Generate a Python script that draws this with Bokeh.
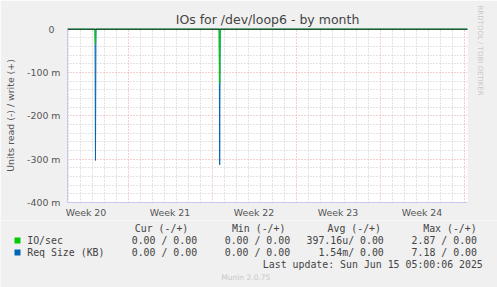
from bokeh.plotting import figure
from bokeh.models import FixedTicker, Grid, Span, Range1d, Title
from bokeh.core.properties import value
from bokeh.embed import file_html
from bokeh.resources import INLINE

# ---- data (x in days since Mon 12 May 2025 00:00) ----
time_days = [1.9, 4.25, 4.29, 4.33, 14.60, 14.64, 14.68, 35.5]
io_read = [0.0, 0.0, -0.035, 0.0, 0.0, -0.125, 0.0, 0.0]
reqsize_read = [0.0, 0.0, -0.303, 0.0, 0.0, -0.313, 0.0, 0.0]

week_centers = [3.5, 10.5, 17.5, 24.5, 31.5]
week_labels = ["Week 20", "Week 21", "Week 22", "Week 23", "Week 24"]
y_ticks = [0.0, -0.1, -0.2, -0.3, -0.4]
y_labels = ["0\u00a0\u00a0", "-100 m", "-200 m", "-300 m", "-400 m"]

legend_names = ["IO/sec", "Req Size (KB)"]
legend_colors = ["#00CC00", "#0066B3"]
cur_vals = ["0.00 / 0.00", "0.00 / 0.00"]
min_vals = ["0.00 / 0.00", "0.00 / 0.00"]
avg_vals = ["397.16u/ 0.00", "1.54m/ 0.00"]
max_vals = ["2.87 / 0.00", "7.18 / 0.00"]
headers = ["Cur (-/+)", "Min (-/+)", "Avg (-/+)", "Max (-/+)"]
last_update = "Last update: Sun Jun 15 05:00:06 2025"
version = "Munin 2.0.75"

W, H = 497, 287
H1 = 220
FL, FR, FT, FB = 67, 467, 28, 203  # frame edges in canvas px
BG = "#F0F0F0"
AX = "#C8C8F0"
FONT = "DejaVu Sans"
MONO = "DejaVu Sans Mono"
TXT = "#555555"

x0 = 7 - (127.5 - FL) / 12.0
p = figure(width=W, height=H1, output_backend="svg", toolbar_location=None,
           x_range=Range1d(x0, x0 + (FR - FL) / 12.0),
           y_range=Range1d(-0.4, 0.0012),
           min_border_left=FL, min_border_right=W - FR,
           min_border_top=FT, min_border_bottom=H1 - FB,
           background_fill_color="white", border_fill_color=BG,
           outline_line_color=None)
p.grid.visible = False

p.title.text = "IOs for /dev/loop6 - by month"
p.title.align = "center"
p.title.text_font = FONT
p.title.text_font_size = "12.5px"
p.title.text_font_style = "normal"
p.title.text_color = "#444444"
p.title.standoff = 3

wm = Title(text="RRDTOOL / TOBI OETIKER", align="left", offset=-23, text_font=FONT,
           text_font_size="7px", text_font_style="normal", text_color="#C8C8C8",
           standoff=16)
p.add_layout(wm, "right")

# grids
minor_x = [d for d in range(2, 36) if d % 7 != 0]
major_x = [7, 14, 21, 28, 35]
minor_y = [-i * 0.02 for i in range(1, 20) if i % 5 != 0]
major_y = [-0.1, -0.2, -0.3]
for tick, dim, col in [(minor_x, 0, "#C8C8C8"), (minor_y, 1, "#C8C8C8"),
                       (major_x, 0, "#E8A0A0"), (major_y, 1, "#E8A0A0")]:
    g = Grid(dimension=dim, ticker=FixedTicker(ticks=tick),
             grid_line_color=col, grid_line_dash="1 2", grid_line_width=1)
    p.add_layout(g)

# series
p.line(time_days, reqsize_read, line_color=legend_colors[1], line_width=1)
p.line(time_days, io_read, line_color=legend_colors[0], line_width=1)
p.add_layout(Span(location=0, dimension="width", line_color="black", line_width=1))

# axes
xa = p.xaxis[0]
xa.ticker = FixedTicker(ticks=week_centers)
xa.major_label_overrides = {t: l for t, l in zip(week_centers, week_labels)}
xa.axis_line_color = AX
xa.major_tick_line_color = None
xa.minor_tick_line_color = None
xa.major_tick_out = 0
xa.major_tick_in = 0
xa.minor_tick_out = 0
xa.major_label_text_font = FONT
xa.major_label_text_font_size = "9.4px"
xa.major_label_text_color = TXT
xa.major_label_standoff = 4

ya = p.yaxis[0]
ya.ticker = FixedTicker(ticks=y_ticks)
ya.major_label_overrides = {t: l for t, l in zip(y_ticks, y_labels)}
ya.axis_line_color = AX
ya.major_tick_line_color = None
ya.minor_tick_line_color = None
ya.major_tick_out = 0
ya.major_tick_in = 0
ya.minor_tick_out = 0
ya.major_label_text_font = FONT
ya.major_label_text_font_size = "9.4px"
ya.major_label_text_color = TXT
ya.major_label_standoff = 7
ya.axis_label = "Units read (-) / write (+)"
ya.axis_label_text_font = FONT
ya.axis_label_text_font_size = "9.4px"
ya.axis_label_text_font_style = "normal"
ya.axis_label_text_color = TXT
ya.axis_label_standoff = 8

# ---- legend area (second root, data coords = canvas pixels) ----
q = figure(width=W, height=H - H1, output_backend="svg", toolbar_location=None,
           x_range=Range1d(0, W), y_range=Range1d(H, H1),
           min_border=0, min_border_left=0, min_border_right=0,
           min_border_top=0, min_border_bottom=0,
           background_fill_color=BG, border_fill_color=BG, outline_line_color=None)
q.axis.visible = False
q.grid.visible = False


def txt(fig, xs, ys, texts, align="left", font=MONO, size="9.9px", color="#444444"):
    fig.text(x=xs, y=ys, text=texts, text_align=align, text_baseline="middle",
             text_font=value(font), text_font_size=size, text_color=color)


hx = [134.3, 231.4, 327.0, 422.7]
txt(q, hx, [228] * 4, headers)
rows_y = [240, 252]
q.scatter(x=[17, 17], y=rows_y, marker="square", size=6, fill_color=legend_colors,
          line_color=None)
txt(q, [26.7, 26.7], rows_y, legend_names)
col_right = [196.6, 289.6, 383.3, 476.5]
for vals, xr in zip([cur_vals, min_vals, avg_vals, max_vals], col_right):
    txt(q, [xr, xr], rows_y, vals, align="right")
txt(q, [482.3], [263.5], [last_update], align="right")
txt(q, [245.3], [276.5], [version], align="center", font=FONT, size="7.5px", color="#C8C8C8")

open("out.html", "w").write(file_html([p, q], INLINE))
